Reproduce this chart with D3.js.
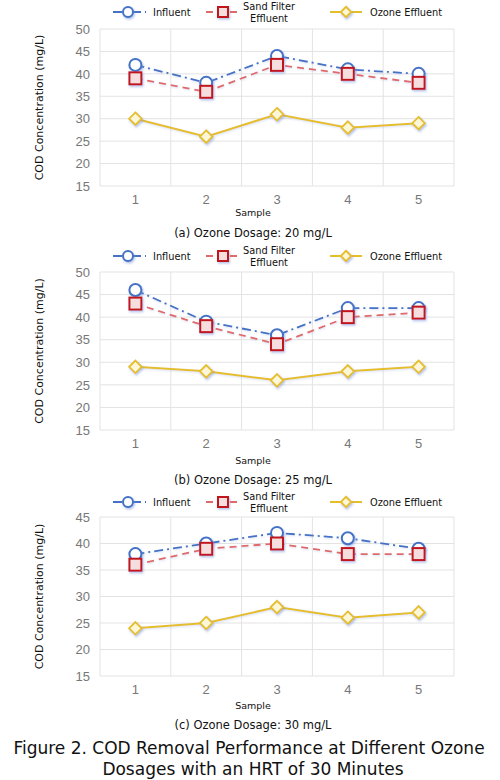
<!DOCTYPE html>
<html lang="en">
<head>
<meta charset="utf-8">
<title>COD Removal</title>
<script src="https://d3js.org/d3.v7.min.js"></script>
<style>
  body { margin: 0; background: #fff; }
  svg { font-family: "DejaVu Sans", Verdana, sans-serif; }
  .grid line { stroke: #e3e3e3; stroke-width: 1px; }
  .tick-label { fill: #777; font-size: 13px; }
</style>
</head>
<body>
<script>
// samples on x axis
const samples = [1, 2, 3, 4, 5];

// (a) 20 mg/L
const influentA = [42, 38, 44, 41, 40];
const sandA     = [39, 36, 42, 40, 38];
const ozoneA    = [30, 26, 31, 28, 29];
// (b) 25 mg/L
const influentB = [46, 39, 36, 42, 42];
const sandB     = [43, 38, 34, 40, 41];
const ozoneB    = [29, 28, 26, 28, 29];
// (c) 30 mg/L
const influentC = [38, 40, 42, 41, 39];
const sandC     = [36, 39, 40, 38, 38];
const ozoneC    = [24, 25, 28, 26, 27];

const yTicksAB = [15, 20, 25, 30, 35, 40, 45, 50];
const yTicksC  = [15, 20, 25, 30, 35, 40, 45];

const captions = ["(a) Ozone Dosage: 20 mg/L", "(b) Ozone Dosage: 25 mg/L", "(c) Ozone Dosage: 30 mg/L"];
const seriesNames = ["Influent", "Sand Filter Effluent", "Ozone Effluent"];

const w = 500, h = 780;
const left = 100, right = 454;

const blue = "#4472c4", red = "#c0141c", redLine = "#e06a6a", gold = "#e5be2a";

const svg = d3.select("body").append("svg")
  .attr("width", w).attr("height", h);

const defs = svg.append("defs");
const f = defs.append("filter").attr("id", "glow")
  .attr("x", "-50%").attr("y", "-50%").attr("width", "200%").attr("height", "200%");
f.append("feDropShadow").attr("dx", 1).attr("dy", 1.5).attr("stdDeviation", 1.2)
  .attr("flood-color", "#6f8fd8").attr("flood-opacity", 0.55);
const f2 = defs.append("filter").attr("id", "lineglow")
  .attr("x", "-10%").attr("y", "-50%").attr("width", "120%").attr("height", "200%");
f2.append("feDropShadow").attr("dx", 0.5).attr("dy", 1).attr("stdDeviation", 0.8)
  .attr("flood-color", "#9ab0e0").attr("flood-opacity", 0.4);

const panels = [
  {top: 29,  bottom: 186, ticks: yTicksAB, series: [influentA, sandA, ozoneA], legendY: 12,  capY: 233, sampleY: 213, tickY: 200},
  {top: 272, bottom: 430, ticks: yTicksAB, series: [influentB, sandB, ozoneB], legendY: 256, capY: 480, sampleY: 461, tickY: 444},
  {top: 517, bottom: 676, ticks: yTicksC,  series: [influentC, sandC, ozoneC], legendY: 502, capY: 725, sampleY: 706, tickY: 690}
];

// s = scale factor (legend markers are a bit smaller)
function marker(g, type, x, y, s) {
  if (type == 0) {
    g.append("circle").attr("cx", x).attr("cy", y).attr("r", 5 * s)
      .attr("fill", "#fff").attr("stroke", blue).attr("stroke-width", 2)
      .attr("filter", "url(#glow)");
  } else if (type == 1) {
    const a = 10 * s;
    g.append("rect").attr("x", x - a / 2).attr("y", y - a / 2).attr("width", a).attr("height", a)
      .attr("fill", "#f7dede").attr("stroke", red).attr("stroke-width", 2)
      .attr("filter", "url(#glow)");
  } else {
    g.append("path").attr("d", d3.symbol(d3.symbolDiamond2, 70 * s * s)())
      .attr("transform", "translate(" + x + "," + y + ")")
      .attr("fill", "#fdf6d8").attr("stroke", gold).attr("stroke-width", 1.8)
      .attr("filter", "url(#glow)");
  }
}

const lineStyles = [
  {stroke: blue, dash: "9,4,2,4", width: 1.8},
  {stroke: redLine, dash: "7,5", width: 1.8},
  {stroke: gold, dash: null, width: 2}
];

panels.forEach((p, i) => {
  const g = svg.append("g");

  const x = d3.scaleBand().domain(samples).range([left, right]);
  const y = d3.scaleLinear().domain([d3.min(p.ticks), d3.max(p.ticks)]).range([p.bottom, p.top]);

  // grid
  const grid = g.append("g").attr("class", "grid");
  grid.selectAll(".h").data(p.ticks).join("line")
    .attr("x1", left).attr("x2", right)
    .attr("y1", d => y(d)).attr("y2", d => y(d));
  const edges = samples.map(s => x(s)).concat([right]);
  grid.selectAll(".v").data(edges).join("line")
    .attr("x1", d => d).attr("x2", d => d)
    .attr("y1", p.top).attr("y2", p.bottom);

  // y axis labels
  const leftAxis = d3.axisLeft(y).tickValues(p.ticks).tickSize(0).tickPadding(10);
  const ya = g.append("g").attr("transform", "translate(" + left + ",0)").call(leftAxis);
  ya.select(".domain").remove();
  ya.selectAll("text").attr("class", "tick-label").attr("font-family", null).attr("font-size", null);

  // x axis labels
  const bottomAxis = d3.axisBottom(x).tickSize(0).tickPadding(0);
  const xa = g.append("g").attr("transform", "translate(0," + (p.tickY - 5) + ")").call(bottomAxis);
  xa.select(".domain").remove();
  xa.selectAll("text").attr("class", "tick-label").attr("font-family", null).attr("font-size", null);

  // axis titles
  g.append("text").attr("x", 253).attr("y", p.sampleY + 3)
    .attr("text-anchor", "middle").attr("font-size", 9.5).attr("fill", "#111").text("Sample");
  g.append("text")
    .attr("transform", "translate(43," + ((p.top + p.bottom) / 2) + ") rotate(-90)")
    .attr("text-anchor", "middle").attr("font-size", 11).attr("fill", "#111")
    .text("COD Concentration (mg/L)");
  g.append("text").attr("x", 253).attr("y", p.capY + 4)
    .attr("text-anchor", "middle").attr("font-size", 11.5).attr("fill", "#111").text(captions[i]);

  // lines
  const cx = d => x(d) + x.bandwidth() / 2;
  p.series.forEach((vals, k) => {
    const line = d3.line().x((d, j) => cx(samples[j])).y(d => y(d));
    g.append("path").datum(vals)
      .attr("d", line)
      .attr("fill", "none")
      .attr("stroke", lineStyles[k].stroke)
      .attr("stroke-width", lineStyles[k].width)
      .attr("stroke-dasharray", lineStyles[k].dash)
      .attr("filter", "url(#lineglow)");
  });
  // markers, ozone first then influent then sand on top
  [2, 0, 1].forEach(k => {
    p.series[k].forEach((v, j) => marker(g, k, cx(samples[j]), y(v), 1.2));
  });

  // legend
  const ly = p.legendY;
  const lg = g.append("g");
  const legendPos = [{x1: 113, x2: 146, m: 128, tx: 153}, {x1: 206, x2: 238, m: 223, tx: 269}, {x1: 330, x2: 362, m: 346, tx: 370}];
  legendPos.forEach((lp, k) => {
    lg.append("line").attr("x1", lp.x1).attr("x2", lp.x2).attr("y1", ly).attr("y2", ly)
      .attr("stroke", lineStyles[k].stroke).attr("stroke-width", 2)
      .attr("stroke-dasharray", lineStyles[k].dash);
    marker(lg, k, lp.m, ly, 1);
  });
  lg.append("text").attr("x", legendPos[0].tx).attr("y", ly + 3.5)
    .attr("font-size", 9.8).attr("fill", "#111").text(seriesNames[0]);
  lg.append("text").attr("x", legendPos[1].tx).attr("y", ly - 2)
    .attr("text-anchor", "middle").attr("font-size", 9.8).attr("fill", "#111").text("Sand Filter");
  lg.append("text").attr("x", legendPos[1].tx).attr("y", ly + 9.5)
    .attr("text-anchor", "middle").attr("font-size", 9.8).attr("fill", "#111").text("Effluent");
  lg.append("text").attr("x", legendPos[2].tx).attr("y", ly + 3.5)
    .attr("font-size", 9.8).attr("fill", "#111").text(seriesNames[2]);
});

// figure title
svg.append("text").attr("x", 249).attr("y", 754).attr("text-anchor", "middle")
  .attr("font-size", 17).attr("fill", "#111")
  .text("Figure 2. COD Removal Performance at Different Ozone");
svg.append("text").attr("x", 253).attr("y", 775).attr("text-anchor", "middle")
  .attr("font-size", 17).attr("fill", "#111")
  .text("Dosages with an HRT of 30 Minutes");
</script>
</body>
</html>
